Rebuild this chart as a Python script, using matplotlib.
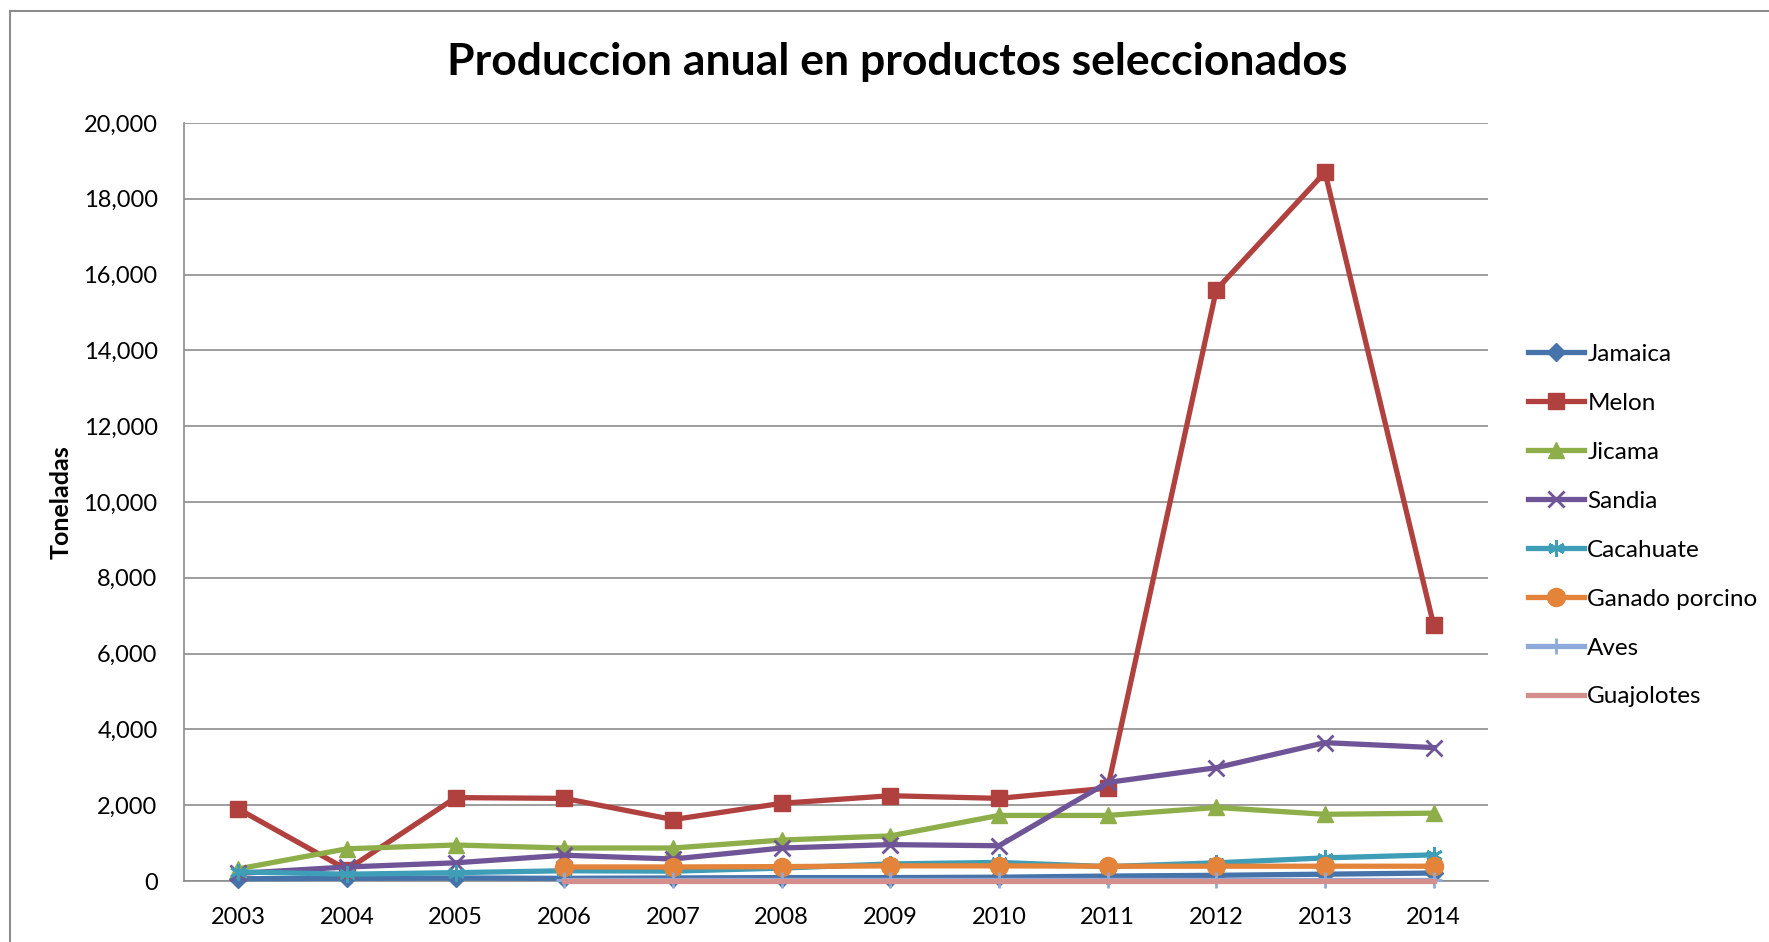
import matplotlib
matplotlib.use("Agg")
import matplotlib.pyplot as plt
from matplotlib.lines import Line2D
from matplotlib.ticker import FuncFormatter
import numpy as np

# ------------------------------------------------------------
# data (toneladas)
# ------------------------------------------------------------
years = ["2003", "2004", "2005", "2006", "2007", "2008",
         "2009", "2010", "2011", "2012", "2013", "2014"]

jamaica = [60, 70, 80, 70, 80, 90, 90, 100, 130, 150, 180, 210]
melon = [1900, 300, 2200, 2180, 1620, 2050, 2250, 2180, 2450, 15600, 18700, 6750]
jicama = [320, 850, 950, 870, 870, 1080, 1190, 1730, 1730, 1940, 1760, 1790]
sandia = [200, 370, 480, 680, 580, 870, 960, 930, 2600, 2990, 3650, 3520]
cacahuate = [240, 180, 220, 270, 260, 340, 450, 490, 380, 480, 610, 690]
porcino = [None, None, None, 370, 370, 380, 400, 400, 390, 390, 390, 390]
aves = [None, None, None, 15, 15, 15, 15, 15, 15, 15, 15, 15]
guajolotes = [None, None, None, 10, 10, 10, 10, 10, 10, 10, 10, 10]

series_names = ["Jamaica", "Melon", "Jicama", "Sandia", "Cacahuate",
                "Ganado porcino", "Aves", "Guajolotes"]
series_values = [jamaica, melon, jicama, sandia, cacahuate,
                 porcino, aves, guajolotes]

colors = ["#4674AA", "#B0413E", "#8EAE4A", "#6F5597", "#3E9DB7",
          "#E3843A", "#8EAADA", "#D48E8C"]
markers = ["D", "s", "^", "x", (6, 2, 0), "o", "+", None]
msizes = [9, 12, 12, 12, 12, 13, 12, 0]

plt.rcParams["font.family"] = ["Lato", "DejaVu Sans"]

fig = plt.figure(figsize=(17.69, 9.42), dpi=100)
W, H = 1769, 942
ax = fig.add_axes([184 / W, 1 - 881 / H, (1488 - 184) / W, (881 - 123) / H])

x = np.arange(len(years))
handles = []
for name, vals, c, m, ms in zip(series_names, series_values, colors, markers, msizes):
    y = np.array([np.nan if v is None else v for v in vals], dtype=float)
    mew = 2 if m in ("x", "+", (6, 2, 0)) else 1
    ax.plot(x, y, color=c, linewidth=3.8, marker=m, markersize=ms,
            markeredgewidth=mew, markerfacecolor=c, markeredgecolor=c,
            clip_on=False, zorder=3)
    handles.append(Line2D([0], [0], color=c, linewidth=3.8, marker=m,
                          markersize=ms, markeredgewidth=mew,
                          markerfacecolor=c, markeredgecolor=c))

ax.set_xlim(-0.5, len(years) - 0.5)
ax.set_ylim(0, 20000)
ax.set_yticks(np.arange(0, 20001, 2000))
ax.yaxis.set_major_formatter(FuncFormatter(lambda v, p: f"{int(v):,}"))
ax.set_xticks(x)
ax.set_xticklabels(years)
ax.tick_params(axis="both", labelsize=17, length=0)
ax.tick_params(axis="x", pad=19)
ax.tick_params(axis="y", pad=19)
ax.grid(axis="y", color="#8C8C8C", linewidth=1.2, zorder=0)
for side in ("top", "right"):
    ax.spines[side].set_visible(False)
for side in ("left", "bottom"):
    ax.spines[side].set_color("#8C8C8C")
    ax.spines[side].set_linewidth(1.2)

ax.set_ylabel("Toneladas", fontsize=18, fontweight="bold", labelpad=8)

fig.text(897 / W, 1 - 62 / H, "Produccion anual en productos seleccionados",
         ha="center", va="center", fontsize=32, fontweight="bold")

leg = fig.legend(handles, series_names, loc="upper left",
                 bbox_to_anchor=(1518 / W, 1 - 334 / H), frameon=False,
                 fontsize=17.5, handlelength=2.3, handletextpad=0.15,
                 labelspacing=1.15, borderaxespad=0)

# outer chart border (left and top visible)
fig.add_artist(Line2D([10 / W, 10 / W], [0, 1 - 11 / H], color="#8C8C8C",
                      linewidth=1.5, transform=fig.transFigure))
fig.add_artist(Line2D([10 / W, 1], [1 - 11 / H, 1 - 11 / H], color="#8C8C8C",
                      linewidth=1.5, transform=fig.transFigure))

fig.savefig("out.png", dpi=100)
